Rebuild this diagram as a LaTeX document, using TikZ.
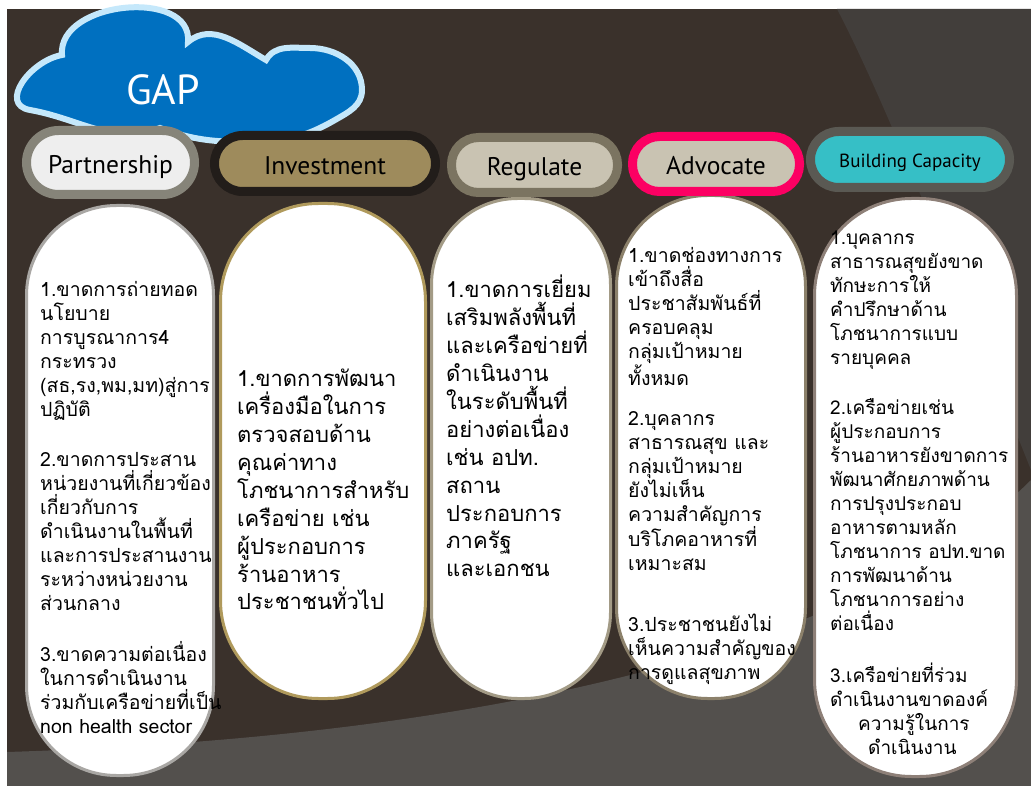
\documentclass[tikz,border=0pt]{standalone}
\usepackage{fontspec}
\newfontfamily\thaifont[Script=Thai]{Loma}
\newfontfamily\headfont{PT Sans}
\usetikzlibrary{positioning}

\definecolor{bgdark}{HTML}{3A312B}
\definecolor{bgwedge}{HTML}{423E3B}
\definecolor{bgband}{HTML}{53504D}
\definecolor{gapblue}{HTML}{0070C0}
\definecolor{gapedge}{HTML}{C5E8FB}
\definecolor{partedge}{HTML}{868479}
\definecolor{partfill}{HTML}{EEEEEE}
\definecolor{investedge}{HTML}{221D1A}
\definecolor{investfill}{HTML}{9E8B5C}
\definecolor{reguedge}{HTML}{7B7461}
\definecolor{greyfill}{HTML}{C9C3B2}
\definecolor{advoedge}{HTML}{FC0063}
\definecolor{buildedge}{HTML}{5A5953}
\definecolor{buildfill}{HTML}{36BFC6}
\definecolor{edgeone}{HTML}{A9A7A4}
\definecolor{edgetwo}{HTML}{B09A5C}
\definecolor{edgethree}{HTML}{A39B86}
\definecolor{edgefour}{HTML}{8C816B}
\definecolor{edgefive}{HTML}{8E8078}

\begin{document}
\begin{tikzpicture}
%Gaps under each strategy
	[
	 x=1pt, y=1pt,
	 %Styles
	 head_node/.style={rectangle,line width=9pt,inner sep=0pt,
	   text height=22pt,text depth=0pt,
	   font=\headfont\fontsize{25.5}{28}\selectfont},
	 body_node/.style={rectangle,fill=white,line width=3pt},
	 gap_text/.style={anchor=north west,align=left,inner sep=0pt,
	   font=\thaifont\fontsize{19.5}{24}\selectfont},
	 gap_text_large/.style={gap_text,font=\thaifont\fontsize{22}{27.9}\selectfont}
	]

	\useasboundingbox (0,0) rectangle (1031,-786);

	%Background
	\fill[white] (0,0) rectangle (1031,-786);
	\fill[bgdark] (7,-9) rectangle (1031,-786);
	\fill[bgwedge] (837,-9) .. controls (890,-110) and (975,-330) .. (1031,-470)
	  -- (1031,-9) -- cycle;
	\fill[bgband] (7,-752) .. controls (450,-738) and (850,-660) .. (1031,-480)
	  -- (1031,-786) -- (7,-786) -- cycle;

	%Cloud
	\filldraw[fill=gapblue,draw=gapedge,line width=6pt]
	  (30,-110) to[out=170,in=190,looseness=1.3] (62,-55)
	  to[out=95,in=85,looseness=1.1] (188,-42)
	  to[out=40,in=150] (266,-60)
	  to[out=60,in=180] (310,-48)
	  to[out=0,in=90] (362,-90)
	  to[out=270,in=30] (335,-120)
	  to[out=210,in=0] (250,-142)
	  to[out=180,in=-20] (160,-128)
	  to[out=200,in=-10] (30,-110) -- cycle;
	\node (gap_label) [text=white,font=\headfont\fontsize{42}{42}\selectfont] at (163,-90) {GAP};

	%Columns
	\node (partnership_body) [body_node,draw=edgeone,minimum width=187pt,minimum height=570pt,
	  rounded corners=90pt] at (120,-490.5) {};
	\node (investment_body) [body_node,draw=edgetwo,minimum width=205pt,minimum height=495pt,
	  rounded corners=98pt] at (323,-451) {};
	\node (regulate_body) [body_node,draw=edgethree,minimum width=179pt,minimum height=500pt,
	  rounded corners=86pt] at (521,-448.5) {};
	\node (advocate_body) [body_node,draw=edgefour,minimum width=189pt,minimum height=503pt,
	  rounded corners=91pt] at (711,-447) {};
	\node (building_body) [body_node,draw=edgefive,minimum width=202pt,minimum height=578pt,
	  rounded corners=97pt] at (915.5,-487.5) {};

	%Headers
	\node (partnership) [head_node,draw=partedge,fill=partfill,minimum width=168pt,
	  minimum height=64pt,rounded corners=32pt] at (110.5,-162.5) {Partnership};
	\node (investment) [head_node,draw=investedge,fill=investfill,minimum width=221pt,
	  minimum height=56pt,rounded corners=28pt] at (325,-163.5) {Investment};
	\node (regulate) [head_node,draw=reguedge,fill=greyfill,minimum width=166pt,
	  minimum height=55pt,rounded corners=27pt] at (534.5,-165) {Regulate};
	\node (advocate) [head_node,draw=advoedge,fill=greyfill,minimum width=167pt,
	  minimum height=55pt,rounded corners=27pt] at (716,-164) {Advocate};
	\node (building) [head_node,draw=buildedge,fill=buildfill,minimum width=199pt,
	  minimum height=56pt,rounded corners=28pt,text height=17pt,
	  font=\headfont\fontsize{19}{22}\selectfont] at (910,-159.5) {Building Capacity};

	%Gap texts
	\node (partnership_gaps) [gap_text] at (40,-281) {%
	  1.ขาดการถ่ายทอด\\
	  นโยบาย\\
	  การบูรณาการ4\\
	  กระทรวง\\
	  (สธ,รง,พม,มท)สู่การ\\
	  ปฏิบัติ\\[26pt]
	  2.ขาดการประสาน\\
	  หน่วยงานที่เกี่ยวข้อง\\
	  เกี่ยวกับการ\\
	  ดำเนินงานในพื้นที่\\
	  และการประสานงาน\\
	  ระหว่างหน่วยงาน\\
	  ส่วนกลาง\\[27pt]
	  3.ขาดความต่อเนื่อง\\
	  ในการดำเนินงาน\\
	  ร่วมกับเครือข่ายที่เป็น\\
	  non health sector};
	\node (investment_gaps) [gap_text_large] at (237,-369) {%
	  1.ขาดการพัฒนา\\
	  เครื่องมือในการ\\
	  ตรวจสอบด้าน\\
	  คุณค่าทาง\\
	  โภชนาการสำหรับ\\
	  เครือข่าย เช่น\\
	  ผู้ประกอบการ\\
	  ร้านอาหาร\\
	  ประชาชนทั่วไป};
	\node (regulate_gaps) [gap_text_large] at (446,-275) {%
	  1.ขาดการเยี่ยม\\
	  เสริมพลังพื้นที่\\
	  และเครือข่ายที่\\
	  ดำเนินงาน\\
	  ในระดับพื้นที่\\
	  อย่างต่อเนื่อง\\
	  เช่น อปท.\\
	  สถาน\\
	  ประกอบการ\\
	  ภาครัฐ\\
	  และเอกชน};
	\node (advocate_gaps) [gap_text] at (628,-247) {%
	  1.ขาดช่องทางการ\\
	  เข้าถึงสื่อ\\
	  ประชาสัมพันธ์ที่\\
	  ครอบคลุม\\
	  กลุ่มเป้าหมาย\\
	  ทั้งหมด\\[16pt]
	  2.บุคลากร\\
	  สาธารณสุข และ\\
	  กลุ่มเป้าหมาย\\
	  ยังไม่เห็น\\
	  ความสำคัญการ\\
	  บริโภคอาหารที่\\
	  เหมาะสม\\[37pt]
	  3.ประชาชนยังไม่\\
	  เห็นความสำคัญของ\\
	  การดูแลสุขภาพ};
	\node (building_gaps) [gap_text,font=\thaifont\fontsize{19}{24}\selectfont] at (830,-231) {%
	  1.บุคลากร\\
	  สาธารณสุขยังขาด\\
	  ทักษะการให้\\
	  คำปรึกษาด้าน\\
	  โภชนาการแบบ\\
	  รายบุคคล\\[26pt]
	  2.เครือข่ายเช่น\\
	  ผู้ประกอบการ\\
	  ร้านอาหารยังขาดการ\\
	  พัฒนาศักยภาพด้าน\\
	  การปรุงประกอบ\\
	  อาหารตามหลัก\\
	  โภชนาการ อปท.ขาด\\
	  การพัฒนาด้าน\\
	  โภชนาการอย่าง\\
	  ต่อเนื่อง\\[28pt]
	  3.เครือข่ายที่ร่วม\\
	  ดำเนินงานขาดองค์\\
	  \hspace*{28pt}ความรู้ในการ\\
	  \hspace*{38pt}ดำเนินงาน};
\end{tikzpicture}
\end{document}
